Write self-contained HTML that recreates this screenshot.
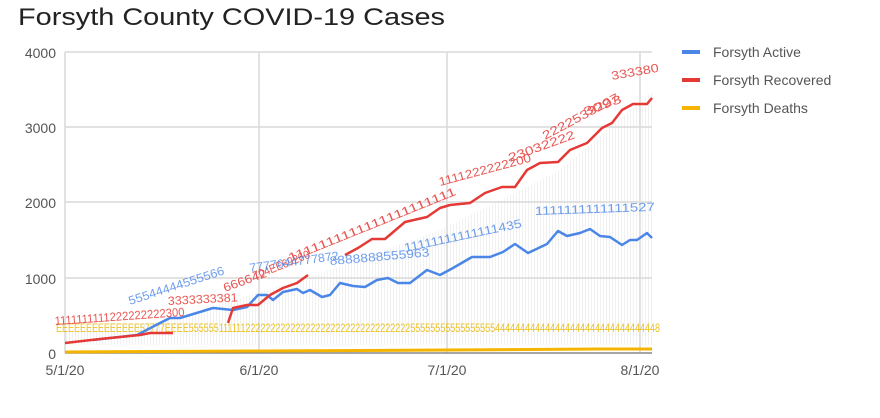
<!DOCTYPE html>
<html><head><meta charset="utf-8"><style>
html,body{margin:0;padding:0;background:#fff;}
svg{display:block;font-family:"Liberation Sans",Arial,sans-serif;}
</style></head><body>
<svg width="880" height="418" viewBox="0 0 880 418" xmlns="http://www.w3.org/2000/svg">
<defs>
<pattern id="hatch" width="3" height="10" patternUnits="userSpaceOnUse">
<rect width="3" height="10" fill="#fff"/><rect x="0" width="1" height="10" fill="#e6e6e6"/>
</pattern>
</defs>
<text x="18" y="25" font-size="24" fill="#222" textLength="427" lengthAdjust="spacingAndGlyphs">Forsyth County COVID-19 Cases</text>
<polygon points="65,330 160,322 235,300 330,270 440,230 560,170 652,92 652,345 65,345" fill="url(#hatch)" opacity="0.55"/>
<g stroke="#d9d9d9" stroke-width="1.5">
<line x1="65" y1="52" x2="652" y2="52"/>
<line x1="65" y1="127" x2="652" y2="127"/>
<line x1="65" y1="202" x2="652" y2="202"/>
<line x1="65" y1="278" x2="652" y2="278"/>
<line x1="65" y1="52" x2="65" y2="353"/>
<line x1="259" y1="52" x2="259" y2="353"/>
<line x1="447" y1="52" x2="447" y2="353"/>
<line x1="640" y1="52" x2="640" y2="353"/>
</g>
<line x1="65" y1="353" x2="652" y2="353" stroke="#888" stroke-width="1.5"/>
<g font-size="14" fill="#555" text-anchor="end">
<text x="56" y="58">4000</text>
<text x="56" y="133">3000</text>
<text x="56" y="208">2000</text>
<text x="56" y="284">1000</text>
<text x="56" y="359">0</text>
</g>
<g font-size="14" fill="#555" text-anchor="middle">
<text x="65" y="375">5/1/20</text>
<text x="259" y="375">6/1/20</text>
<text x="447" y="375">7/1/20</text>
<text x="640" y="375">8/1/20</text>
</g>
<g font-size="12" fill="#e8b800" opacity="0.85">
<text x="56" y="332" textLength="604" lengthAdjust="spacingAndGlyphs">EEEEEEEEEEEEEE57777EEEE55555511111122222222222222222222222222222222255555555555555555444444444444444444444444444444448</text>
</g>
<g font-size="12" fill="#e53935" opacity="0.85">
<text x="55" y="325" textLength="130" lengthAdjust="spacingAndGlyphs" transform="rotate(-4 55 325)">1111111111222222222300</text>
<text x="168" y="305" textLength="70" lengthAdjust="spacingAndGlyphs" transform="rotate(-3 168 305)">3333333381</text>
<text x="225" y="292" textLength="45" lengthAdjust="spacingAndGlyphs" transform="rotate(-20 225 292)">666642</text>
<text x="255" y="280" textLength="60" lengthAdjust="spacingAndGlyphs" transform="rotate(-22 255 280)">704EE69260</text>
<text x="290" y="262" textLength="180" lengthAdjust="spacingAndGlyphs" transform="rotate(-22 290 262)">1111111111111111111111</text>
<text x="440" y="186" textLength="95" lengthAdjust="spacingAndGlyphs" transform="rotate(-15 440 186)">1111222222200</text>
<text x="510" y="162" textLength="70" lengthAdjust="spacingAndGlyphs" transform="rotate(-20 510 162)">23032222</text>
<text x="545" y="140" textLength="85" lengthAdjust="spacingAndGlyphs" transform="rotate(-28 545 140)">2222533227</text>
<text x="585" y="116" textLength="40" lengthAdjust="spacingAndGlyphs" transform="rotate(-20 585 116)">3093</text>
<text x="612" y="80" textLength="48" lengthAdjust="spacingAndGlyphs" transform="rotate(-10 612 80)">333380</text>
</g>
<g font-size="12" fill="#4a86e8" opacity="0.8">
<text x="130" y="305" textLength="100" lengthAdjust="spacingAndGlyphs" transform="rotate(-18 130 305)">55544444555566</text>
<text x="250" y="272" textLength="90" lengthAdjust="spacingAndGlyphs" transform="rotate(-8 250 272)">7777644777872</text>
<text x="330" y="265" textLength="100" lengthAdjust="spacingAndGlyphs" transform="rotate(-5 330 265)">8888888555963</text>
<text x="405" y="252" textLength="120" lengthAdjust="spacingAndGlyphs" transform="rotate(-12 405 252)">11111111111111435</text>
<text x="535" y="215" textLength="120" lengthAdjust="spacingAndGlyphs" transform="rotate(-2 535 215)">1111111111111527</text>
</g>
<polyline fill="none" stroke="#f4b400" stroke-width="3" points="65,352 259,351 447,350 600,349 652,349"/>
<polyline fill="none" stroke="#4a86e8" stroke-width="2.5" stroke-linejoin="round" points="93,340 137,335 160,323 170,318 180,318 190,315 213,308 233,310 247,307 258,295 267,295 273,300 283,292 297,289 303,293 310,290 322,297 330,295 340,283 353,286 365,287 377,280 388,278 398,283 410,283 427,270 440,275 453,268 472,257 490,257 503,252 515,244 528,253 547,244 558,231 567,236 580,233 590,229 600,236 610,237 622,245 630,240 637,240 647,233 652,238"/>
<polyline fill="none" stroke="#e53935" stroke-width="2.5" stroke-linejoin="round" points="65,343 100,339 120,337 140,335 150,333 173,333"/>
<polyline fill="none" stroke="#e53935" stroke-width="2.5" stroke-linejoin="round" points="228,323 233,308 247,305 258,305 270,295 283,288 297,283 308,275"/>
<polyline fill="none" stroke="#e53935" stroke-width="2.5" stroke-linejoin="round" points="345,255 358,248 372,239 385,239 405,222 427,217 440,208 450,205 470,203 485,193 502,187 515,187 527,170 540,163 558,162 570,150 587,143 602,128 612,123 622,110 633,104 647,104 652,98"/>
<rect x="682" y="50" width="18" height="4" fill="#4a86e8"/>
<rect x="682" y="78" width="18" height="4" fill="#e53935"/>
<rect x="682" y="106" width="18" height="4" fill="#f4b400"/>
<g font-size="14" fill="#555">
<text x="713" y="57">Forsyth Active</text>
<text x="713" y="85">Forsyth Recovered</text>
<text x="713" y="113">Forsyth Deaths</text>
</g>
</svg>
</body></html>
